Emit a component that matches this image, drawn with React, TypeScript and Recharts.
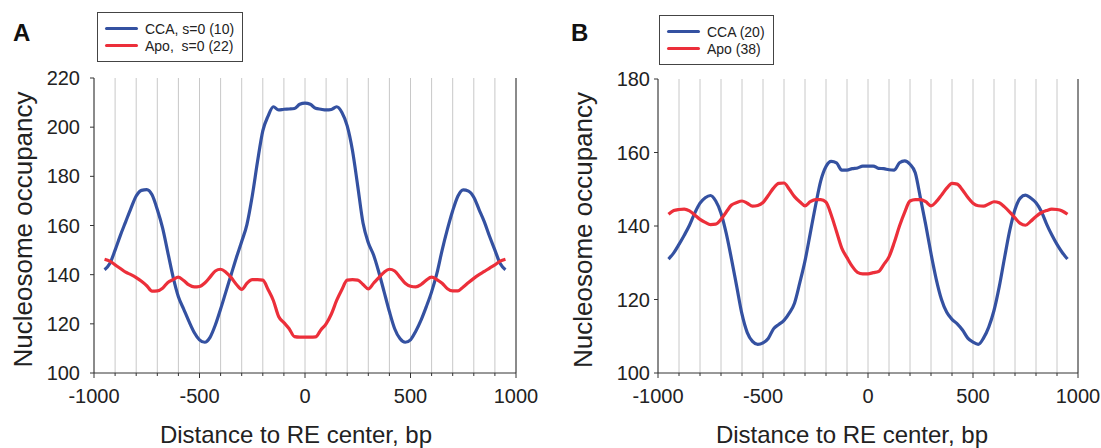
import React from "react";
import {
  LineChart,
  Line,
  XAxis,
  YAxis,
  CartesianGrid,
  ReferenceLine,
  Legend,
} from "recharts";

// distance to RE center (bp)
const POS = [
  -950, -925, -900, -875, -850, -825, -800, -775, -750, -725,
  -700, -675, -650, -625, -600, -575, -550, -525, -500, -475,
  -450, -425, -400, -375, -350, -325, -300, -275, -250, -225,
  -200, -175, -150, -125, -100, -75, -50, -25, 0, 25,
  50, 75, 100, 125, 150, 175, 200, 225, 250, 275,
  300, 325, 350, 375, 400, 425, 450, 475, 500, 525,
  550, 575, 600, 625, 650, 675, 700, 725, 750, 775,
  800, 825, 850, 875, 900, 925, 950,
];

const A_CCA = [
  142, 144.5, 150, 156, 161.5, 167, 172, 174.3, 174.6, 172.5,
  166.5, 159, 149, 139, 131, 126, 121, 116.5, 113.5, 112.5,
  114.5, 119.5, 126, 133, 140, 147, 153.5, 160.5, 172, 186,
  198.5, 204.5, 208.3, 207, 207.3, 207.4, 207.6, 209.3, 209.8, 209.3,
  207.7, 207.3, 207, 207.2, 208.3, 206, 200.5, 190.5, 176, 161,
  153, 148, 141, 133, 125, 118, 114, 112.5, 113.5, 117,
  121.5, 127, 133, 140.5, 150, 158.5, 166, 172, 174.5, 174,
  171.5, 166.5, 161.5, 155.5, 150, 144.5, 142,
];

const A_APO = [
  146.3, 145.5, 144, 142.5, 141, 140, 138.8, 137.3, 135.5, 133.3,
  133.4, 134.5, 136.8, 138, 139, 137.6, 135.8, 135, 135.2, 136.6,
  139, 141.5, 142.2, 141, 138.8, 136, 134, 136.5, 138, 138,
  137.8, 134, 129.5, 123, 120.5, 118, 114.8, 114.6, 114.6, 114.6,
  114.7, 117.5, 120, 124, 129.5, 134, 137.8, 138, 137.8, 136,
  134.2, 136.5, 138.8, 141, 142.2, 141.5, 139, 136.5, 135.3, 135,
  136, 137.8, 139, 138, 136.5, 134.3, 133.4, 133.4, 135, 136.8,
  138.5, 140, 141.3, 142.7, 144, 145.5, 146.3,
];

const B_CCA = [
  131, 132.7, 135, 137.5, 140.2, 143.5, 146.2, 147.7, 148.3, 146.8,
  143.5, 138, 131, 123.5, 116, 111, 108.6, 107.8, 108.2, 109.4,
  112, 113.2, 114.3, 116.3, 119, 124.5, 130.5, 138, 145.5, 152.3,
  156.2, 157.6, 157.2, 155.2, 155.2, 155.6, 155.8, 156.3, 156.3, 156.3,
  155.7, 155.6, 155.3, 155.2, 157.2, 157.7, 156.8, 154.5, 147.5, 140.3,
  132.5, 125.5, 120, 116.5, 114.6, 113.4, 111.7, 109.5, 108.4, 107.8,
  109.5, 112.5, 117, 123.5, 131.3, 138.8, 144.5, 147.6, 148.4, 147.6,
  146.3, 144, 140.6, 137.6, 135, 132.8, 131,
];

const B_APO = [
  143.2, 144.2, 144.5, 144.6, 144.1, 143, 141.8, 141, 140.4, 140.5,
  141.8, 143.8, 145.7, 146.4, 146.8, 146.2, 145.4, 145.6, 146.4, 148.3,
  150.3, 151.6, 151.7, 150, 148, 146.6, 145.5, 146.6, 147.2, 147.2,
  146.5, 143, 138.5, 134, 131.4, 129, 127.4, 127, 127, 127.3,
  127.6, 129.5, 131.6, 135.5, 140, 143.8, 146.8, 147.2, 147.2, 146.6,
  145.5, 146.6, 148.4, 150.3, 151.6, 151.4, 149.8, 147.8, 146.2, 145.5,
  145.4, 146, 146.6, 146.3, 145.2, 143.8, 142.2, 140.7, 140.2, 141.3,
  142.6, 143.6, 144.2, 144.6, 144.5, 144.1, 143.2,
];

const X_TICKS = [
  -1000, -900, -800, -700, -600, -500, -400, -300, -200, -100, 0,
  100, 200, 300, 400, 500, 600, 700, 800, 900, 1000,
];
const A_Y_TICKS = [100, 120, 140, 160, 180, 200, 220];
const B_Y_TICKS = [100, 120, 140, 160, 180];

const BLUE = "#3451a1";
const RED = "#ec2f3a";
const AXIS = "#333";
const TXT = "#222";
const SERIES_ORDER = ["cca", "apo"];

const rows = (a: number[], b: number[]) =>
  POS.map((x, i) => ({ x, cca: a[i], apo: b[i] }));

function BottomTick({ x, y, payload }: any) {
  const major = payload.value % 500 === 0;
  return (
    <g>
      <line x1={x} y1={y} x2={x} y2={y + (major ? 5 : 3)} stroke={AXIS} />
      {major && (
        <text x={x} y={y + 30} textAnchor="middle" fontSize={20} fill={TXT}>
          {payload.value}
        </text>
      )}
    </g>
  );
}

function TopTick({ x, y, payload }: any) {
  const major = payload.value % 500 === 0;
  return <line x1={x} y1={y} x2={x} y2={y - (major ? 5 : 3)} stroke={AXIS} />;
}

function YTitle({ viewBox, dx }: any) {
  const cx = viewBox.x + dx;
  const cy = viewBox.y + viewBox.height / 2 + 4;
  return (
    <text
      x={cx}
      y={cy}
      transform={`rotate(-90 ${cx} ${cy})`}
      textAnchor="middle"
      dominantBaseline="central"
      fontSize={26}
      fill={TXT}
    >
      Nucleosome occupancy
    </text>
  );
}

function XTitle({ viewBox, dx }: any) {
  return (
    <text
      x={viewBox.x + viewBox.width / 2 + dx}
      y={443}
      textAnchor="middle"
      fontSize={24}
      fill={TXT}
    >
      Distance to RE center, bp
    </text>
  );
}

function LegendBox({ payload, width, top }: any) {
  const items = [...(payload || [])].sort(
    (a: any, b: any) =>
      SERIES_ORDER.indexOf(a.dataKey) - SERIES_ORDER.indexOf(b.dataKey)
  );
  return (
    <div
      style={{
        border: "1px solid #444",
        background: "#fff",
        width,
        height: 50,
        boxSizing: "border-box",
        paddingTop: 7,
        marginTop: top,
      }}
    >
      {items.map((p: any) => (
        <div
          key={p.value}
          style={{ display: "flex", alignItems: "center", height: 17 }}
        >
          <span
            style={{
              display: "inline-block",
              width: 33,
              height: 3.5,
              borderRadius: 2,
              background: p.color,
              marginLeft: 7,
            }}
          />
          <span
            style={{
              marginLeft: 7,
              fontSize: 14,
              color: TXT,
              whiteSpace: "pre",
            }}
          >
            {p.value}
          </span>
        </div>
      ))}
    </div>
  );
}

function Panel({
  data,
  yTicks,
  yAxisWidth,
  tickGap,
  right,
  top,
  titleDx,
  yTitleDx,
  names,
  legendLeft,
  legendTop,
  legendWidth,
  width,
}: any) {
  return (
    <LineChart
      width={width}
      height={448}
      data={data}
      margin={{ top, right, bottom: 0, left: 0 }}
    >
      <CartesianGrid horizontal={false} stroke="#c8c8c8" strokeWidth={1} />
      <XAxis
        dataKey="x"
        type="number"
        domain={[-1000, 1000]}
        ticks={X_TICKS}
        interval={0}
        height={75}
        tickSize={0}
        tickMargin={0}
        tickLine={false}
        tick={<BottomTick />}
        axisLine={{ stroke: AXIS }}
        label={<XTitle dx={titleDx} />}
      />
      <XAxis
        xAxisId="top"
        orientation="top"
        dataKey="x"
        type="number"
        domain={[-1000, 1000]}
        ticks={X_TICKS}
        interval={0}
        height={0}
        tickSize={0}
        tickMargin={0}
        tickLine={false}
        tick={<TopTick />}
        axisLine={{ stroke: AXIS }}
      />
      <YAxis
        type="number"
        domain={[yTicks[0], yTicks[yTicks.length - 1]]}
        ticks={yTicks}
        interval={0}
        width={yAxisWidth}
        tickSize={4}
        tickMargin={tickGap}
        tickLine={{ stroke: AXIS }}
        axisLine={{ stroke: AXIS }}
        tick={{ fontSize: 20, fill: TXT }}
        label={<YTitle dx={yTitleDx} />}
      />
      <ReferenceLine x={1000} stroke={AXIS} strokeWidth={1} />
      <Legend
        layout="horizontal"
        verticalAlign="middle"
        align="center"
        itemSorter={null}
        wrapperStyle={{
          position: "absolute",
          left: legendLeft,
          top: 0,
          width: "auto",
          height: "auto",
        }}
        content={(p: any) => (
          <LegendBox {...p} width={legendWidth} top={legendTop} />
        )}
      />
      <Line
        type="monotone"
        dataKey="cca"
        name={names[0]}
        stroke={BLUE}
        strokeWidth={3.2}
        dot={false}
        isAnimationActive={false}
      />
      <Line
        type="monotone"
        dataKey="apo"
        name={names[1]}
        stroke={RED}
        strokeWidth={3.2}
        dot={false}
        isAnimationActive={false}
      />
    </LineChart>
  );
}

const letter: React.CSSProperties = {
  position: "absolute",
  fontSize: 24,
  fontWeight: "bold",
  lineHeight: 1,
  color: "#111",
};

export default function App() {
  return (
    <div
      style={{
        position: "absolute",
        left: 0,
        top: 0,
        width: 1101,
        height: 448,
        background: "#fff",
        fontFamily: "'Liberation Sans', Arial, sans-serif",
        overflow: "hidden",
      }}
    >
      <div style={{ position: "absolute", left: 0, top: 0 }}>
        <Panel
          width={540}
          data={rows(A_CCA, A_APO)}
          yTicks={A_Y_TICKS}
          yAxisWidth={94}
          tickGap={10}
          right={24}
          top={78}
          titleDx={-9}
          yTitleDx={23}
          names={["CCA, s=0 (10)", "Apo,  s=0 (22)"]}
          legendLeft={97}
          legendTop={12}
          legendWidth={146}
        />
      </div>
      <div style={{ position: "absolute", left: 550, top: 0 }}>
        <Panel
          width={551}
          data={rows(B_CCA, B_APO)}
          yTicks={B_Y_TICKS}
          yAxisWidth={108}
          tickGap={4}
          right={23}
          top={79}
          titleDx={-16}
          yTitleDx={33}
          names={["CCA (20)", "Apo (38)"]}
          legendLeft={109}
          legendTop={15}
          legendWidth={115}
        />
      </div>
      <div style={{ ...letter, left: 13, top: 21 }}>A</div>
      <div style={{ ...letter, left: 571, top: 21 }}>B</div>
    </div>
  );
}
